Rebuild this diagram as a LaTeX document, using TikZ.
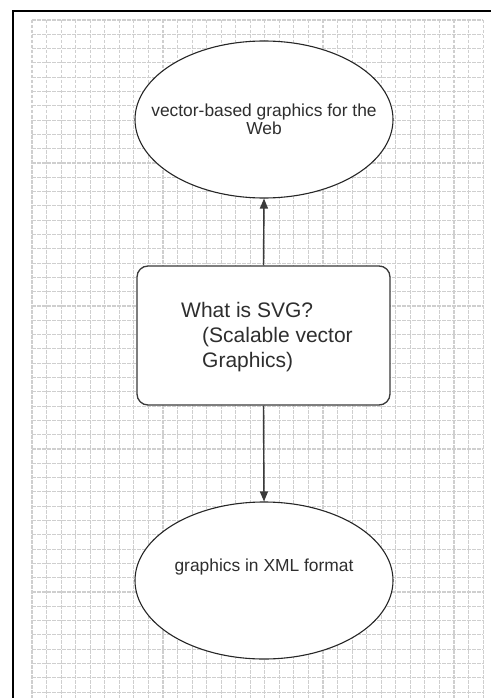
\documentclass[tikz,border=0pt]{standalone}
\usepackage{fontspec}
\setmainfont{Liberation Sans}
\usetikzlibrary{shapes.geometric,arrows.meta}
\definecolor{gridgray}{HTML}{CFCFCF}
\definecolor{edgegray}{HTML}{3A3A3A}
\definecolor{textgray}{HTML}{2E2E2E}
\tikzset{
  gridline/.style={gridgray, line width=1.1pt, dash pattern=on 3.5pt off 1.5pt},
  oval/.style={ellipse, draw=black!85, line width=1.1pt, fill=white,
    minimum width=258pt, minimum height=157pt, inner sep=0pt},
  boxnode/.style={rectangle, rounded corners=11pt, draw=edgegray, line width=1.3pt,
    fill=white, minimum width=253pt, minimum height=139pt, inner sep=0pt},
  lbl/.style={text=textgray, inner sep=0pt},
  conn/.style={edgegray, line width=1.4pt, -{Triangle[length=10pt,width=8pt]}},
}
\begin{document}
\begin{tikzpicture}[x=1pt,y=-1pt]
\useasboundingbox (0,0) rectangle (490,698);
\fill[white] (0,0) rectangle (490,698);
% grid
\foreach \i in {0,...,31} {
  \draw[gridline] ({32+\i*14.55},20) -- ({32+\i*14.55},698);
}
\foreach \j in {0,...,47} {
  \draw[gridline] (32,{20+\j*14.3}) -- (483,{20+\j*14.3});
}
% frame
\draw[black, line width=2pt] (13,700) -- (13,11) -- (492,11);
% nodes
\node[oval] (web) at (264,119.5) {};
\node[lbl, align=center, font=\fontsize{17.4}{18}\selectfont] (webtxt) at (264,119)
  {vector-based graphics for the\\Web};
\node[boxnode] (svg) at (263.5,335.5) {};
\node[lbl, align=left, font=\fontsize{21}{25}\selectfont, anchor=west] (svgtxt) at (181,337)
  {What is SVG?\\\hspace*{21pt}(Scalable vector\\\hspace*{21pt}Graphics)};
\node[oval] (xml) at (264,580.5) {};
\node[lbl, font=\fontsize{17.4}{18}\selectfont] (xmltxt) at (264,567) {graphics in XML format};
% connectors
\draw[conn] (svg.north) -- (web.south);
\draw[conn] (svg.south) -- (xml.north);
\end{tikzpicture}
\end{document}
